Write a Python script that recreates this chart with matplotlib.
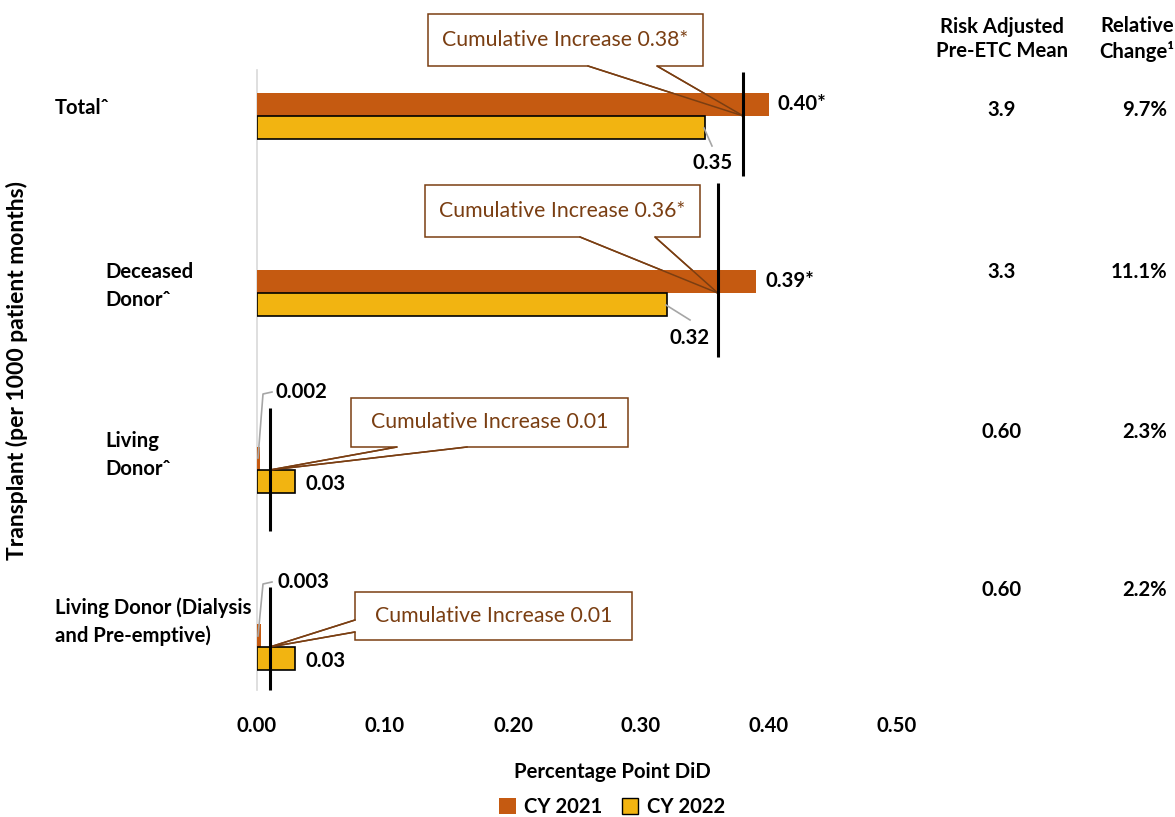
import matplotlib.pyplot as plt
from matplotlib.patches import Polygon, Patch

plt.rcParams['font.family'] = ['Lato', 'DejaVu Sans']

categories = ['Total\u02c6', 'Deceased\nDonor\u02c6', 'Living\nDonor\u02c6',
              'Living Donor (Dialysis\nand Pre-emptive)']
cy2021 = [0.40, 0.39, 0.002, 0.003]
cy2022 = [0.35, 0.32, 0.03, 0.03]
cy2021_labels = ['0.40*', '0.39*', '0.002', '0.003']
cy2022_labels = ['0.35', '0.32', '0.03', '0.03']
cumulative = [0.38, 0.36, 0.01, 0.01]
cumulative_labels = ['Cumulative Increase 0.38*', 'Cumulative Increase 0.36*',
                     'Cumulative Increase 0.01', 'Cumulative Increase 0.01']
pre_etc_mean = ['3.9', '3.3', '0.60', '0.60']
relative_change = ['9.7%', '11.1%', '2.3%', '2.2%']
xticks = [0.0, 0.1, 0.2, 0.3, 0.4, 0.5]

ORANGE = '#C55A11'
GOLD = '#F2B411'
BROWN = '#7A3E12'
GREY = '#A6A6A6'
FS = 14.6

W, H = 1175, 817
fig = plt.figure(figsize=(W / 100, H / 100), dpi=100)

# plot area in pixels: x 257..897, y 70..690
L, R, T, B = 257, 897, 70, 690
ax = fig.add_axes([L / W, 1 - B / H, (R - L) / W, (B - T) / H])
X_SCALE = (R - L) / 0.5          # px per data unit
Y_SCALE = 177                     # px per category step
Y_TOP = -0.26
ax.set_xlim(0, 0.5)
ax.set_ylim(Y_TOP + (B - T) / Y_SCALE, Y_TOP)


def dx(px):
    return (px - L) / X_SCALE


def dy(py):
    return Y_TOP + (py - T) / Y_SCALE


def fx(px):
    return px / W


def fy(py):
    return 1 - py / H


ys = list(range(len(categories)))
bh = 0.13
ax.barh([y - bh / 2 for y in ys], cy2021, height=bh, color=ORANGE,
        edgecolor='none', zorder=3)
ax.barh([y + bh / 2 for y in ys], cy2022, height=bh, color=GOLD,
        edgecolor='black', linewidth=1.2, zorder=3)

# vertical markers for cumulative increase (offsets from category centre)
spans = [(-0.249, 0.339), (-0.621, 0.362), (-0.35, 0.345), (-0.339, 0.243)]
for y, c, (a, b) in zip(ys, cumulative, spans):
    ax.plot([c, c], [y + a, y + b], color='black', lw=2.2, zorder=5,
            solid_capstyle='butt', clip_on=False)

# callout boxes: (left, top, right, bottom) px and pointer base points
boxes = [
    ((428, 14, 703, 66), [(588, 66), (657, 66)]),
    ((425, 185, 700, 237), [(580, 237), (655, 237)]),
    ((351, 398, 628, 447), [(397, 447), (467, 447)]),
    ((355, 592, 632, 640), [(355, 620), (355, 632)]),
]
for y, c, text, ((l, t, r, b), base) in zip(ys, cumulative, cumulative_labels, boxes):
    tip = (c, y)
    if base[0][1] == b:
        pts = [(l, t), (r, t), (r, b), base[1], None, base[0], (l, b)]
    else:
        pts = [(l, t), (r, t), (r, b), (l, b), base[1], None, base[0]]
    verts = [tip if p is None else (dx(p[0]), dy(p[1])) for p in pts]
    ax.add_patch(Polygon(verts, closed=True, facecolor='white',
                         edgecolor=BROWN, lw=1.1, zorder=1, clip_on=False))
    # pointer edges drawn again above the bars
    for p in base:
        ax.plot([dx(p[0]), c], [dy(p[1]), y], color=BROWN, lw=1.1,
                zorder=4, clip_on=False)
    ax.text(dx((l + r) / 2), dy((t + b) / 2), text, color=BROWN,
            fontsize=15.3, ha='center', va='center', zorder=6)

# value labels
lab_style = dict(fontsize=FS, fontweight='bold', va='center', zorder=6)
ax.text(dx(778), dy(104), cy2021_labels[0], ha='left', **lab_style)
ax.text(dx(765), dy(281), cy2021_labels[1], ha='left', **lab_style)
ax.text(dx(713), dy(163), cy2022_labels[0], ha='center', **lab_style)
ax.text(dx(690), dy(338), cy2022_labels[1], ha='center', **lab_style)
ax.text(dx(305), dy(484), cy2022_labels[2], ha='left', **lab_style)
ax.text(dx(305), dy(661), cy2022_labels[3], ha='left', **lab_style)
ax.text(dx(276), dy(392), cy2021_labels[2], ha='left', **lab_style)
ax.text(dx(277), dy(582), cy2021_labels[3], ha='left', **lab_style)

# grey leader lines
leaders = [
    [(704, 128), (712, 146)],
    [(666, 305), (690, 320)],
    [(258, 458), (263, 394), (272, 392)],
    [(258, 636), (263, 584), (272, 582)],
]
for seg in leaders:
    ax.plot([dx(p[0]) for p in seg], [dy(p[1]) for p in seg], color=GREY,
            lw=1.2, zorder=4, clip_on=False)

ax.set_yticks([])
ax.set_xticks(xticks)
ax.set_xticklabels([f'{v:.2f}' for v in xticks], fontsize=FS,
                   fontweight='bold')
ax.tick_params(axis='x', length=0, pad=19)
for s in ['top', 'right', 'bottom']:
    ax.spines[s].set_visible(False)
ax.spines['left'].set_color('#D9D9D9')
ax.spines['left'].set_linewidth(1.2)

# category labels
cat_pos = [(55, 108), (105, 286), (105, 455), (55, 622)]
for name, (px, py) in zip(categories, cat_pos):
    fig.text(fx(px), fy(py), name, fontsize=FS, fontweight='bold',
             ha='left', va='center', linespacing=1.45)

fig.text(fx(17), fy(370), 'Transplant (per 1000 patient months)',
         rotation=90, fontsize=16.5, fontweight='bold',
         ha='center', va='center')
fig.text(fx(612), fy(772), 'Percentage Point DiD', fontsize=FS,
         fontweight='bold', ha='center', va='center')

# side table
fig.text(fx(1002), fy(39), 'Risk Adjusted\nPre-ETC Mean', fontsize=FS,
         fontweight='bold', ha='center', va='center', linespacing=1.3)
fig.text(fx(1137), fy(39), 'Relative\nChange\u00b9', fontsize=FS,
         fontweight='bold', ha='center', va='center', linespacing=1.3)
row_y = [110, 272, 432, 590]
for m, rc, py in zip(pre_etc_mean, relative_change, row_y):
    fig.text(fx(1002), fy(py), m, fontsize=FS, fontweight='bold',
             ha='center', va='center')
    fig.text(fx(1167), fy(py), rc, fontsize=FS, fontweight='bold',
             ha='right', va='center')

handles = [Patch(facecolor=ORANGE, edgecolor='none', label='CY 2021'),
           Patch(facecolor=GOLD, edgecolor='black', label='CY 2022')]
leg = fig.legend(handles=handles, loc='center', ncol=2,
                 bbox_to_anchor=(fx(612), fy(807)), frameon=False,
                 prop={'size': FS, 'weight': 'bold'}, handlelength=0.8,
                 handleheight=0.8, handletextpad=0.4, columnspacing=1.0)

fig.savefig('out.png', dpi=100)
